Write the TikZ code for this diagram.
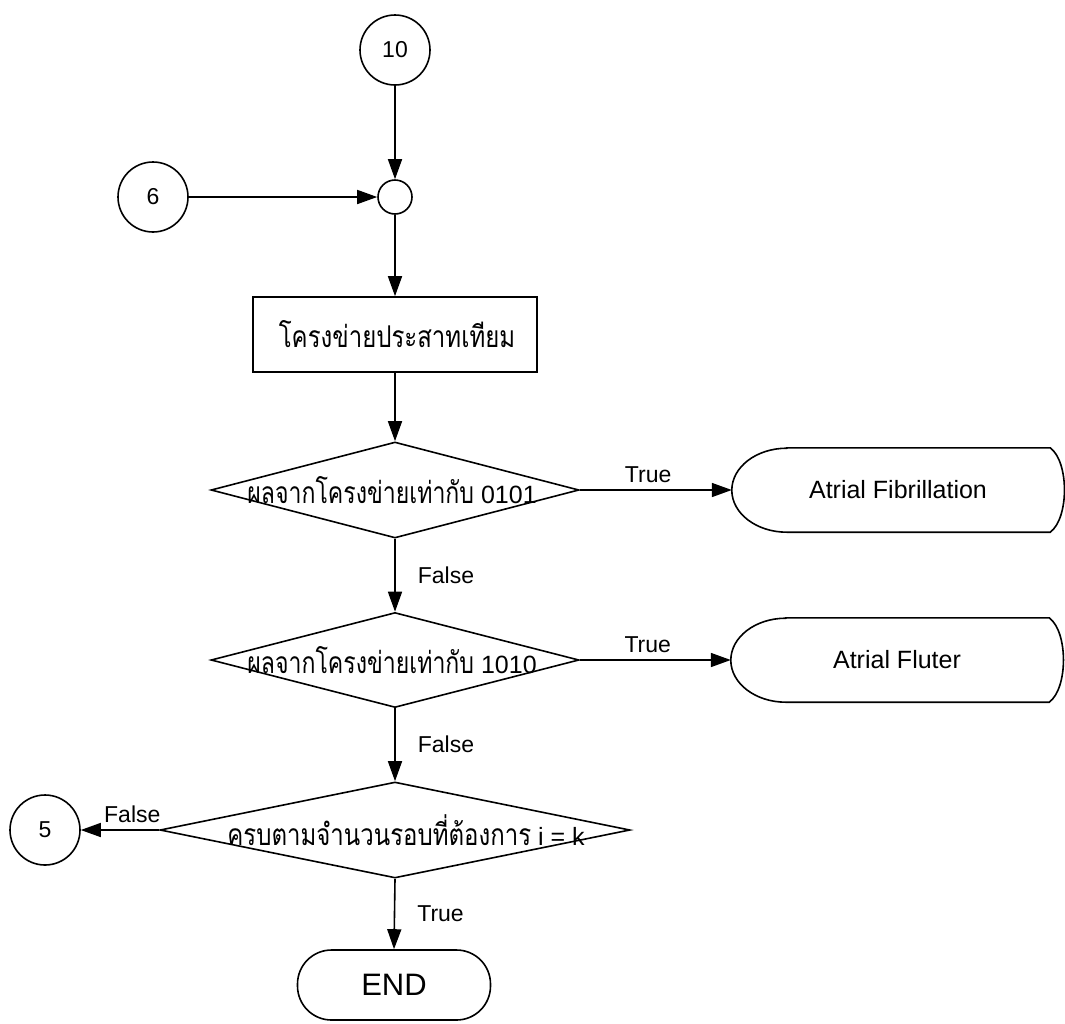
\documentclass[tikz,border=0pt]{standalone}
\usepackage{fontspec}
\setmainfont{Liberation Sans}
\newfontfamily\thaifont[Script=Thai]{Loma}
\usetikzlibrary{shapes.geometric,arrows.meta}
\newcommand{\thaitxt}[2]{\scalebox{#1}[1]{\thaifont\fontsize{30}{34}\selectfont #2}}
\begin{document}
\begin{tikzpicture}[x=1pt,y=-1pt,
  conn/.style={draw, line width=1.6pt, -{Triangle[length=20pt,width=14pt]}},
  outl/.style={draw, line width=1.6pt},
  circ/.style={circle, draw, line width=1.6pt, minimum size=70pt, inner sep=0pt, font=\fontsize{23}{27}\selectfont},
  junc/.style={circle, draw, line width=1.6pt, minimum size=34pt, inner sep=0pt},
  proc/.style={rectangle, draw, line width=1.6pt, minimum width=284pt, minimum height=75pt, inner sep=0pt},
  dec/.style={diamond, draw, line width=1.6pt, inner sep=0pt},
  thtxt/.style={inner sep=0pt, font=\fontsize{25}{29}\selectfont},
  lbl/.style={inner sep=0pt, font=\fontsize{23}{27}\selectfont},
  disp/.style={rectangle, minimum width=332pt, minimum height=84pt, inner sep=0pt, font=\fontsize{25}{29}\selectfont},
  term/.style={rectangle, rounded corners=34pt, draw, line width=1.6pt, minimum width=193pt, minimum height=70pt, inner sep=0pt, font=\fontsize{31}{35}\selectfont}
]
\useasboundingbox (0,0) rectangle (1065,1023);

% nodes
\node[circ] (c10) at (395,50) {10};
\node[junc] (jn) at (395,197) {};
\node[circ] (c6) at (153,197) {6};
\node[proc] (box) at (395,334.5) {};
\node[thtxt] (boxt) at (397,334.5) {\thaitxt{0.8}{โครงข่ายประสาทเทียม}};

\node[dec, minimum width=368pt, minimum height=96pt] (d1) at (395,490) {};
\node[thtxt] (d1t) at (392,490) {\thaitxt{0.77}{ผลจากโครงข่ายเท่ากับ} 0101};

\node[dec, minimum width=368pt, minimum height=95pt] (d2) at (395,660) {};
\node[thtxt] (d2t) at (392,660) {\thaitxt{0.77}{ผลจากโครงข่ายเท่ากับ} 1010};

\node[dec, minimum width=470pt, minimum height=96pt] (d3) at (395,830) {};
\node[thtxt] (d3t) at (406,830) {\thaitxt{0.8}{ครบตามจำนวนรอบที่ต้องการ} i = k};

\node[circ] (c5) at (45,830) {5};
\node[term] (end) at (394,985) {END};

\node[disp] (af) at (898,490) {Atrial Fibrillation};
\node[disp] (afl) at (897,660) {Atrial Fluter};

% display outlines
\path[outl] ([xshift=55pt]af.north west) -- ([xshift=-14pt]af.north east)
  .. controls ([xshift=5pt,yshift=-14pt]af.north east) and ([xshift=5pt,yshift=14pt]af.south east) .. ([xshift=-14pt]af.south east)
  -- ([xshift=55pt]af.south west)
  arc[start angle=270, end angle=90, x radius=55pt, y radius=42pt] -- cycle;
\path[outl] ([xshift=55pt]afl.north west) -- ([xshift=-14pt]afl.north east)
  .. controls ([xshift=5pt,yshift=-14pt]afl.north east) and ([xshift=5pt,yshift=14pt]afl.south east) .. ([xshift=-14pt]afl.south east)
  -- ([xshift=55pt]afl.south west)
  arc[start angle=270, end angle=90, x radius=55pt, y radius=42pt] -- cycle;

% connectors
\draw[conn] (c10) -- (jn);
\draw[conn] (c6) -- (jn);
\draw[conn] (jn) -- (box);
\draw[conn] (box) -- (d1);
\draw[conn] (d1.east) -- (af.west) node[lbl, pos=0.45, above=6pt] {True};
\draw[conn] (d1.south) -- (d2.north) node[lbl, midway, right=22pt] {False};
\draw[conn] (d2.east) -- (afl.west) node[lbl, pos=0.45, above=6pt] {True};
\draw[conn] (d2.south) -- (d3.north) node[lbl, midway, right=22pt] {False};
\draw[conn] (d3.west) -- (c5.east) node[lbl, pos=0, anchor=south east, yshift=6pt, xshift=2pt] {False};
\draw[conn] (d3.south) -- (end.north) node[lbl, midway, right=22pt] {True};
\end{tikzpicture}
\end{document}
